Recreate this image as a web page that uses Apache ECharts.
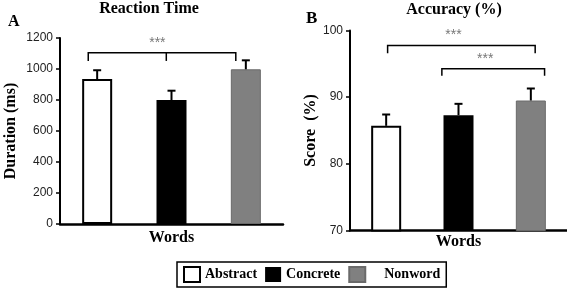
<!DOCTYPE html>
<html>
<head>
<meta charset="utf-8">
<script src="https://cdn.jsdelivr.net/npm/echarts@6/dist/echarts.min.js"></script>
<style>
  html, body { margin: 0; padding: 0; background: #fff; }
  #chart { width: 567px; height: 288px; }
</style>
</head>
<body>
<div id="chart"></div>
<script>
var categories = ['Abstract', 'Concrete', 'Nonword'];
var rtMean = [935, 800, 998];
var rtErr = [57, 60, 58];
var accMean = [85.7, 87.3, 89.5];
var accErr = [1.7, 1.7, 1.8];
var rtTicks = { min: 0, max: 1200, interval: 200 };
var accTicks = { min: 70, max: 100, interval: 10 };
// significance brackets: from / to / middle tick in category units, line value, tick end value
var sigA = [{ from: -0.12, to: 1.865, mid: 0.93, y: 1105, yEnd: 1052, star: 0.81 }];
var sigB = [
  { from: 0.02, to: 2.06, mid: null, y: 97.75, yEnd: 96.6, star: 0.93 },
  { from: 0.77, to: 2.19, mid: null, y: 94.25, yEnd: 93.2, star: 1.37 }
];

var fills = ['#ffffff', '#000000', '#808080'];
var borders = [{ c: '#000', w: 2 }, { c: '#000', w: 0 }, { c: '#6a6a6a', w: 1 }];
var serif = 'Liberation Serif';
var sans = 'Liberation Sans';

var chart = echarts.init(document.getElementById('chart'), null, { renderer: 'canvas' });

function barSeries(means, gi) {
  return categories.map(function(name, i) {
    var d = means.map(function(v, j) { return j === i ? v : '-'; });
    return {
      type: 'bar', name: name, xAxisIndex: gi, yAxisIndex: gi,
      data: d, barWidth: 30, barGap: '-100%',
      itemStyle: { color: fills[i], borderColor: borders[i].c, borderWidth: borders[i].w }
    };
  });
}

function errSeries(means, errs, gi) {
  return {
    type: 'custom', xAxisIndex: gi, yAxisIndex: gi, z: 5,
    data: means.map(function(v, i) { return [i, v, errs[i]]; }),
    encode: { x: 0, y: 1 },
    renderItem: function(params, api) {
      var i = api.value(0), v = api.value(1), e = api.value(2);
      var base = api.coord([i, v]);
      var top = api.coord([i, v + e]);
      var st = { stroke: '#000', lineWidth: 2 };
      return { type: 'group', children: [
        { type: 'line', shape: { x1: base[0], y1: base[1], x2: top[0], y2: top[1] }, style: st },
        { type: 'line', shape: { x1: top[0] - 4, y1: top[1], x2: top[0] + 4, y2: top[1] }, style: st }
      ] };
    }
  };
}

function sigSeries(list, gi) {
  return {
    type: 'custom', xAxisIndex: gi, yAxisIndex: gi, z: 5,
    data: list.map(function(s, i) { return [0, s.y]; }),
    encode: { x: 0, y: 1 },
    renderItem: function(params, api) {
      var s = list[params.dataIndex];
      var c0 = api.coord([0, s.y]);
      var band = api.size([1, 0])[0];
      var yEnd = api.coord([0, s.yEnd])[1];
      var x1 = c0[0] + s.from * band, x2 = c0[0] + s.to * band;
      var st = { stroke: '#000', lineWidth: 1.5 };
      var ch = [
        { type: 'polyline', shape: { points: [[x1, yEnd], [x1, c0[1]], [x2, c0[1]], [x2, yEnd]] }, style: { stroke: '#000', lineWidth: 1.5, fill: null } },
        { type: 'text', style: { text: '***', x: c0[0] + s.star * band, y: c0[1] - 10, align: 'center', verticalAlign: 'middle', fill: '#777', font: '14px ' + sans } }
      ];
      if (s.mid !== null) {
        var xm = c0[0] + s.mid * band;
        ch.push({ type: 'line', shape: { x1: xm, y1: c0[1], x2: xm, y2: yEnd }, style: st });
      }
      return { type: 'group', children: ch };
    }
  };
}

function yAxis(gi, t, name, gap) {
  return {
    type: 'value', gridIndex: gi, min: t.min, max: t.max, interval: t.interval,
    name: name, nameLocation: 'middle', nameGap: gap,
    nameTextStyle: { fontFamily: serif, fontWeight: 'bold', fontSize: 16, color: '#000' },
    axisLine: { show: true, lineStyle: { color: '#000', width: 2 } },
    axisTick: { show: true, length: 4, lineStyle: { color: '#000', width: 1.5 } },
    axisLabel: { fontFamily: sans, fontSize: 12, color: '#222', margin: 7, formatter: function(v) { return String(v); } },
    splitLine: { show: false }
  };
}

function xAxis(gi, gap) {
  return {
    type: 'category', gridIndex: gi, data: categories,
    name: 'Words', nameLocation: 'middle', nameGap: gap,
    nameTextStyle: { fontFamily: serif, fontWeight: 'bold', fontSize: 16, color: '#000' },
    axisLine: { show: true, lineStyle: { color: '#000', width: 2.5 } },
    axisTick: { show: false }, axisLabel: { show: false }
  };
}

function label(text, x, y, size, align) {
  return { type: 'text', x: x, y: y, style: { text: text, fill: '#000', align: align, verticalAlign: 'middle', font: 'bold ' + size + 'px ' + serif } };
}

chart.setOption({
  animation: false,
  grid: [
    { left: 60, right: 284, top: 38, bottom: 64, outerBoundsMode: 'none', containLabel: false },
    { left: 350, right: 0, top: 30.5, bottom: 57.5, outerBoundsMode: 'none', containLabel: false }
  ],
  xAxis: [xAxis(0, 6), xAxis(1, 3)],
  yAxis: [yAxis(0, rtTicks, 'Duration (ms)', 41), yAxis(1, accTicks, 'Score  (%)', 30)],
  legend: {
    data: categories, left: 177, top: 262,
    itemWidth: 16, itemHeight: 15, itemGap: 8, icon: 'rect',
    borderColor: '#000', borderWidth: 1.5, borderRadius: 0, padding: [4, 6, 4, 6],
    textStyle: { fontFamily: serif, fontWeight: 'bold', fontSize: 14, color: '#000' },
    formatter: function(n) { return n === 'Nonword' ? '    ' + n : n; }
  },
  graphic: [
    label('Reaction Time', 149, 9, 16, 'center'),
    label('A', 8, 21.5, 16, 'left'),
    label('Accuracy (%)', 454, 10, 16, 'center'),
    label('B', 306, 19, 17, 'left')
  ],
  series: [].concat(
    barSeries(rtMean, 0),
    barSeries(accMean, 1),
    [errSeries(rtMean, rtErr, 0), errSeries(accMean, accErr, 1), sigSeries(sigA, 0), sigSeries(sigB, 1)]
  )
});
</script>
</body>
</html>
